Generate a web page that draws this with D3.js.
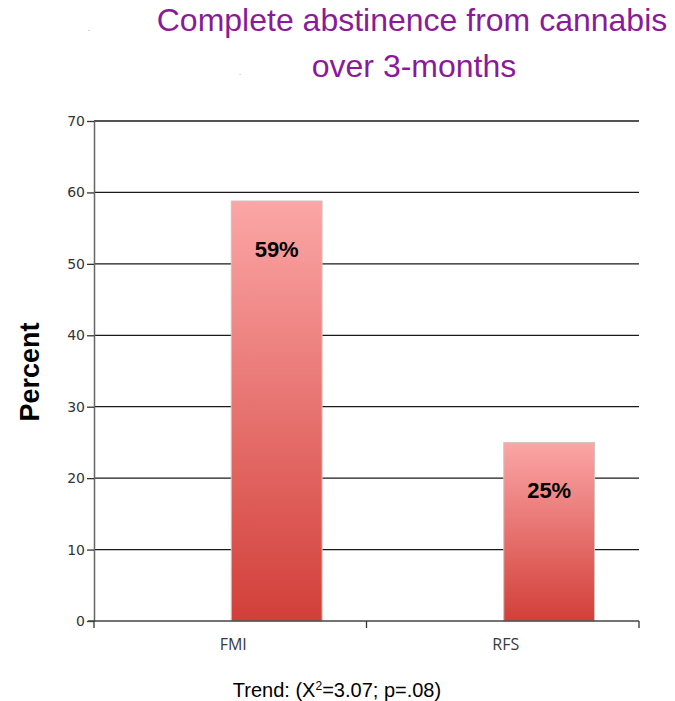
<!DOCTYPE html>
<html>
<head>
<meta charset="utf-8">
<script src="https://cdn.jsdelivr.net/npm/d3@7"></script>
<style>
    body { margin: 0; background: #fff; }
</style>
</head>
<body>
<div id="chart"></div>
<script>
// chart data
var groups = ['FMI', 'RFS'];
var abstinence = [58.8, 25];
var valueLabels = ['59%', '25%'];
var yTicks = [0, 10, 20, 30, 40, 50, 60, 70];
var titleLines = ['Complete abstinence from cannabis', 'over 3-months'];
var footnote = 'Trend: (X';

var width = 675, height = 701;
var margin = {top: 121, right: 36, bottom: 80, left: 94};

var svg = d3.select('#chart').append('svg')
    .attr('width', width)
    .attr('height', height);

var defs = svg.append('defs');
var grad = defs.append('linearGradient')
    .attr('id', 'barFill')
    .attr('x1', 0).attr('y1', 0)
    .attr('x2', 0).attr('y2', 1);
grad.append('stop').attr('offset', '0%').attr('stop-color', '#fba6a6');
grad.append('stop').attr('offset', '100%').attr('stop-color', '#d23f39');

var g = svg.append('g')
    .attr('transform', 'translate(' + margin.left + ',' + margin.top + ')');

var plotW = width - margin.left - margin.right; // 545
var plotH = height - margin.top - margin.bottom; // 500

var x = d3.scaleBand().domain(groups).range([0, plotW]).padding(0);
var y = d3.scaleLinear().domain([0, 70]).range([plotH, 0]);

// gridlines
g.selectAll('.grid')
    .data(yTicks.slice(1))
    .enter()
    .append('line')
    .attr('class', 'grid')
    .attr('x1', 0)
    .attr('x2', plotW)
    .attr('y1', function(d){ return y(d); })
    .attr('y2', function(d){ return y(d); })
    .attr('stroke', '#1a1a1a')
    .attr('stroke-width', 1.3);

// bars: one third of the band, sitting just right of the band centre
function barX(d){ return x(d) + x.bandwidth() / 2 + 1; }
var barW = x.bandwidth() / 3;

g.selectAll('.bar')
    .data(groups)
    .enter()
    .append('rect')
    .attr('class', 'bar')
    .attr('x', barX)
    .attr('width', barW)
    .attr('y', function(d, i){ return y(abstinence[i]); })
    .attr('height', function(d, i){ return plotH - y(abstinence[i]); })
    .attr('fill', 'url(#barFill)')
    .attr('stroke', '#d0c4c4')
    .attr('stroke-width', 1);

// value labels inside bars
g.selectAll('.vlabel')
    .data(groups)
    .enter()
    .append('text')
    .attr('class', 'vlabel')
    .attr('x', function(d){ return barX(d) + barW / 2; })
    .attr('y', function(d, i){ return y(abstinence[i]) + 56; })
    .attr('text-anchor', 'middle')
    .style('font-family', 'Liberation Sans, Arial, sans-serif')
    .style('font-weight', 'bold')
    .style('font-size', '22px')
    .style('fill', '#000')
    .text(function(d, i){ return valueLabels[i]; });

// y axis
var yAxis = g.append('g')
    .call(d3.axisLeft(y).tickValues(yTicks).tickSize(7).tickSizeOuter(0));
yAxis.select('.domain').attr('stroke', '#666').attr('stroke-width', 1.5);
yAxis.selectAll('.tick line').attr('stroke', '#333').attr('stroke-width', 1.3);
yAxis.selectAll('.tick text')
    .attr('x', -9)
    .style('font-family', 'DejaVu Sans, Verdana, sans-serif')
    .style('font-size', '14px')
    .style('fill', '#333');

// x axis, ticks between categories
var xAxisG = g.append('g').attr('transform', 'translate(0,' + plotH + ')');
xAxisG.append('line')
    .attr('x1', -6).attr('x2', plotW)
    .attr('stroke', '#444').attr('stroke-width', 1.6);
var edges = groups.map(function(d){ return x(d); }).concat([plotW]);
xAxisG.selectAll('.xtick')
    .data(edges)
    .enter()
    .append('line')
    .attr('class', 'xtick')
    .attr('x1', function(d){ return d; })
    .attr('x2', function(d){ return d; })
    .attr('y1', 0)
    .attr('y2', 7)
    .attr('stroke', '#333')
    .attr('stroke-width', 1.3);
xAxisG.selectAll('.xlabel')
    .data(groups)
    .enter()
    .append('text')
    .attr('class', 'xlabel')
    .attr('x', function(d){ return x(d) + x.bandwidth() / 2 + 3; })
    .attr('y', 29)
    .attr('text-anchor', 'middle')
    .style('font-family', 'Open Sans, Liberation Sans, sans-serif')
    .style('font-size', '16px')
    .style('fill', '#3a3a3a')
    .text(function(d){ return d; });

// y axis title
svg.append('text')
    .attr('transform', 'translate(39,372) rotate(-90)')
    .attr('text-anchor', 'middle')
    .style('font-family', 'Liberation Sans, Arial, sans-serif')
    .style('font-weight', 'bold')
    .style('font-size', '27px')
    .style('fill', '#000')
    .text('Percent');

// title
svg.selectAll('.title')
    .data(titleLines)
    .enter()
    .append('text')
    .attr('class', 'title')
    .attr('x', function(d, i){ return i === 0 ? 412 : 414; })
    .attr('y', function(d, i){ return 31 + i * 46; })
    .attr('text-anchor', 'middle')
    .style('font-family', 'Liberation Sans, Arial, sans-serif')
    .style('font-size', '32px')
    .style('fill', '#8b1a9a')
    .text(function(d){ return d; });

// stray dots from the original slide
svg.append('text').attr('x', 88).attr('y', 31).style('font-size', '8px').style('fill', '#9a7aa0').text('.');
svg.append('text').attr('x', 239).attr('y', 75).style('font-size', '8px').style('fill', '#9a7aa0').text('.');

// footnote
var foot = svg.append('text')
    .attr('x', 337)
    .attr('y', 697)
    .attr('text-anchor', 'middle')
    .style('font-family', 'Liberation Sans Narrow, Liberation Sans, Arial, sans-serif')
    .style('font-size', '20px')
    .style('fill', '#000');
foot.append('tspan').text(footnote);
foot.append('tspan').attr('dy', -7).style('font-size', '12px').text('2');
foot.append('tspan').attr('dy', 7).text('=3.07; p=.08)');
</script>
</body>
</html>
